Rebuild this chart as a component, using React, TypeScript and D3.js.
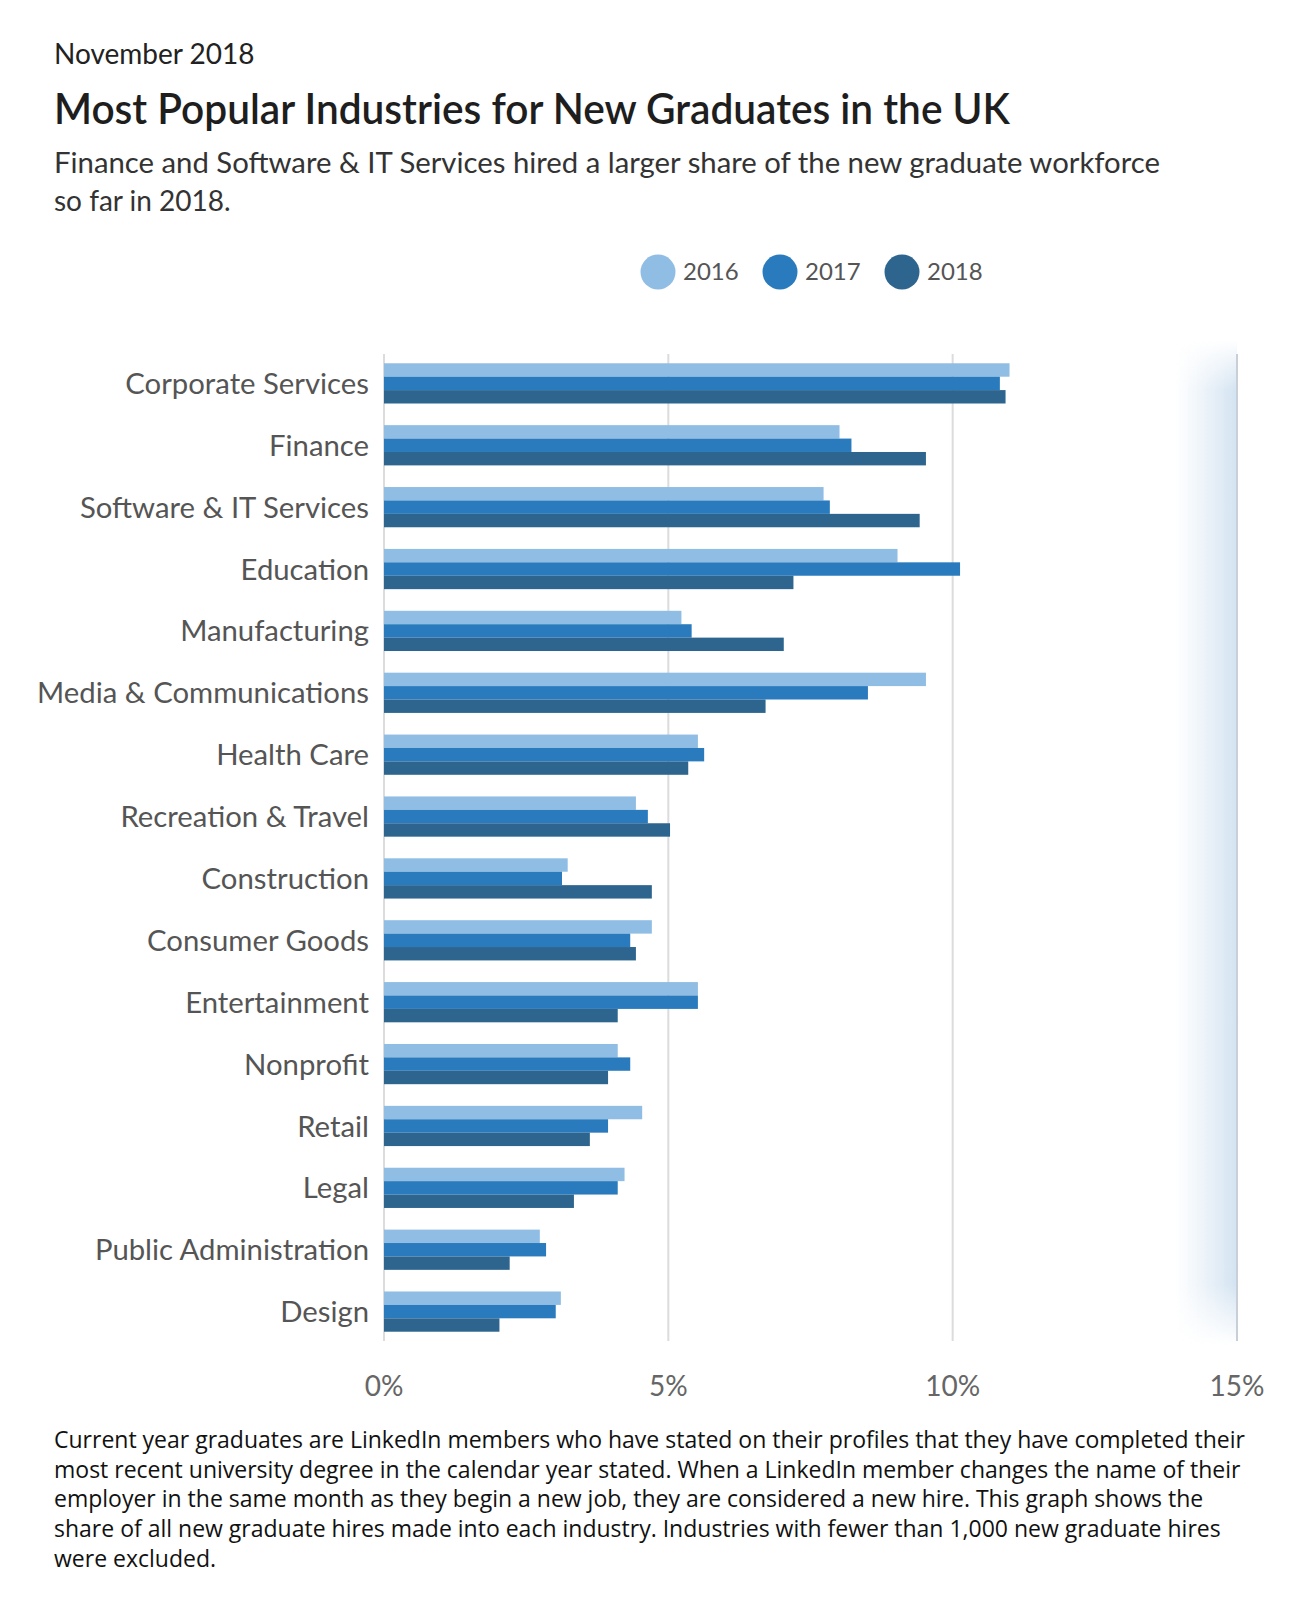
import React, { useEffect, useRef } from 'react';
import * as d3 from 'd3';

const categories = [
  'Corporate Services',
  'Finance',
  'Software & IT Services',
  'Education',
  'Manufacturing',
  'Media & Communications',
  'Health Care',
  'Recreation & Travel',
  'Construction',
  'Consumer Goods',
  'Entertainment',
  'Nonprofit',
  'Retail',
  'Legal',
  'Public Administration',
  'Design',
];

const years = ['2016', '2017', '2018'];

const values2016 = [11.0, 8.01, 7.73, 9.03, 5.23, 9.53, 5.52, 4.43, 3.23, 4.71, 5.52, 4.11, 4.54, 4.23, 2.74, 3.11];
const values2017 = [10.83, 8.22, 7.84, 10.13, 5.41, 8.51, 5.63, 4.64, 3.13, 4.33, 5.52, 4.33, 3.94, 4.11, 2.85, 3.02];
const values2018 = [10.93, 9.53, 9.42, 7.2, 7.03, 6.71, 5.35, 5.03, 4.71, 4.43, 4.11, 3.94, 3.62, 3.34, 2.21, 2.03];

const xTicks = [0, 5, 10, 15];

const yearColors = ['#8fbde3', '#2a7bbd', '#2d658f'];

const footnoteLines = [
  'Current year graduates are LinkedIn members who have stated on their profiles that they have completed their',
  'most recent university degree in the calendar year stated. When a LinkedIn member changes the name of their',
  'employer in the same month as they begin a new job, they are considered a new hire. This graph shows the',
  'share of all new graduate hires made into each industry. Industries with fewer than 1,000 new graduate hires',
  'were excluded.',
];

const FONT = 'Lato, "Open Sans", sans-serif';

const App: React.FC = () => {
  const svgRef = useRef<SVGSVGElement | null>(null);

  useEffect(() => {
    document.body.style.margin = '0';
    if (!svgRef.current) return;

    const width = 1300;
    const height = 1600;
    const svg = d3.select(svgRef.current)
      .attr('width', width)
      .attr('height', height)
      .style('display', 'block')
      .style('font-family', FONT);

    svg.selectAll('*').remove();

    // header texts
    svg.append('text')
      .attr('x', 54).attr('y', 64)
      .attr('font-size', 28).attr('fill', '#222')
      .text('November 2018');

    svg.append('text')
      .attr('x', 54).attr('y', 124)
      .attr('font-size', 42).attr('font-weight', 600).attr('fill', '#1e1e1e')
      .attr('textLength', 956).attr('lengthAdjust', 'spacingAndGlyphs')
      .text('Most Popular Industries for New Graduates in the UK');

    svg.append('text')
      .attr('x', 54).attr('y', 173)
      .attr('font-size', 28).attr('fill', '#333')
      .attr('textLength', 1106).attr('lengthAdjust', 'spacingAndGlyphs')
      .text('Finance and Software & IT Services hired a larger share of the new graduate workforce');

    svg.append('text')
      .attr('x', 54).attr('y', 211)
      .attr('font-size', 28).attr('fill', '#333')
      .text('so far in 2018.');

    // legend
    const legendX = [658, 780, 902];
    const legend = svg.append('g')
      .selectAll('g')
      .data(years)
      .join('g')
      .attr('transform', (d, i) => `translate(${legendX[i]},272)`);
    legend.append('circle').attr('r', 17.5).attr('fill', (d, i) => yearColors[i]);
    legend.append('text')
      .attr('x', 25).attr('dy', '0.35em')
      .attr('font-size', 24).attr('fill', '#555')
      .text(d => d);

    // scales
    const x = d3.scaleLinear().domain([0, 15]).range([384, 1237]);
    const y = d3.scaleBand<string>()
      .domain(categories)
      .range([354, 1341])
      .paddingInner(0.35)
      .paddingOuter(0.15);
    const ySub = d3.scaleBand<string>().domain(years).range([0, y.bandwidth()]);

    // soft blue fade beside the 15% line
    const defs = svg.append('defs');
    const hg = defs.append('linearGradient').attr('id', 'fadeH').attr('x1', 0).attr('x2', 1).attr('y1', 0).attr('y2', 0);
    hg.append('stop').attr('offset', '0%').attr('stop-color', '#dbe8f4').attr('stop-opacity', 0);
    hg.append('stop').attr('offset', '100%').attr('stop-color', '#d3e3f1').attr('stop-opacity', 1);
    const vg = defs.append('linearGradient').attr('id', 'fadeV').attr('x1', 0).attr('x2', 0).attr('y1', 0).attr('y2', 1);
    vg.append('stop').attr('offset', '0%').attr('stop-color', '#fff').attr('stop-opacity', 0);
    vg.append('stop').attr('offset', '5%').attr('stop-color', '#fff').attr('stop-opacity', 1);
    vg.append('stop').attr('offset', '94%').attr('stop-color', '#fff').attr('stop-opacity', 1);
    vg.append('stop').attr('offset', '100%').attr('stop-color', '#fff').attr('stop-opacity', 0);
    const mask = defs.append('mask').attr('id', 'fadeMask');
    mask.append('rect')
      .attr('x', 1170).attr('y', 340).attr('width', 70).attr('height', 1005)
      .attr('fill', 'url(#fadeV)');
    svg.append('rect')
      .attr('x', 1175).attr('y', 340).attr('width', x(15) - 1175).attr('height', 1005)
      .attr('fill', 'url(#fadeH)')
      .attr('mask', 'url(#fadeMask)');

    // gridlines
    svg.append('g')
      .selectAll('line')
      .data(xTicks)
      .join('line')
      .attr('x1', d => x(d)).attr('x2', d => x(d))
      .attr('y1', 354).attr('y2', 1341)
      .attr('stroke', d => (d === 15 ? '#c9cfd6' : '#dcdcdc'))
      .attr('stroke-width', 2);

    // bars
    const series = [values2016, values2017, values2018];
    const groups = svg.append('g')
      .selectAll('g')
      .data(categories)
      .join('g')
      .attr('transform', d => `translate(0,${y(d)})`);

    groups.selectAll('rect')
      .data((d, i) => years.map((yr, k) => ({ yr, k, v: series[k][i] })))
      .join('rect')
      .attr('x', x(0))
      .attr('y', d => ySub(d.yr) as number)
      .attr('width', d => x(d.v) - x(0))
      .attr('height', ySub.bandwidth())
      .attr('fill', d => yearColors[d.k]);

    // category labels
    svg.append('g')
      .selectAll('text')
      .data(categories)
      .join('text')
      .attr('x', 369)
      .attr('y', d => (y(d) as number) + y.bandwidth() / 2)
      .attr('dy', '0.36em')
      .attr('text-anchor', 'end')
      .attr('font-size', 29.3)
      .attr('fill', '#555')
      .text(d => d);

    // x tick labels
    svg.append('g')
      .selectAll('text')
      .data(xTicks)
      .join('text')
      .attr('x', d => x(d))
      .attr('y', 1396)
      .attr('text-anchor', 'middle')
      .attr('font-size', 28)
      .attr('fill', '#666')
      .text(d => `${d}%`);

    // footnote
    svg.append('g')
      .selectAll('text')
      .data(footnoteLines)
      .join('text')
      .attr('x', 54)
      .attr('y', (d, i) => 1448 + i * 29.7)
      .attr('font-family', '"Open Sans", Lato, sans-serif')
      .attr('font-size', 23)
      .attr('fill', '#111')
      .text(d => d);
  }, []);

  return (
    <div>
      <svg ref={svgRef}></svg>
    </div>
  );
};

export default App;
